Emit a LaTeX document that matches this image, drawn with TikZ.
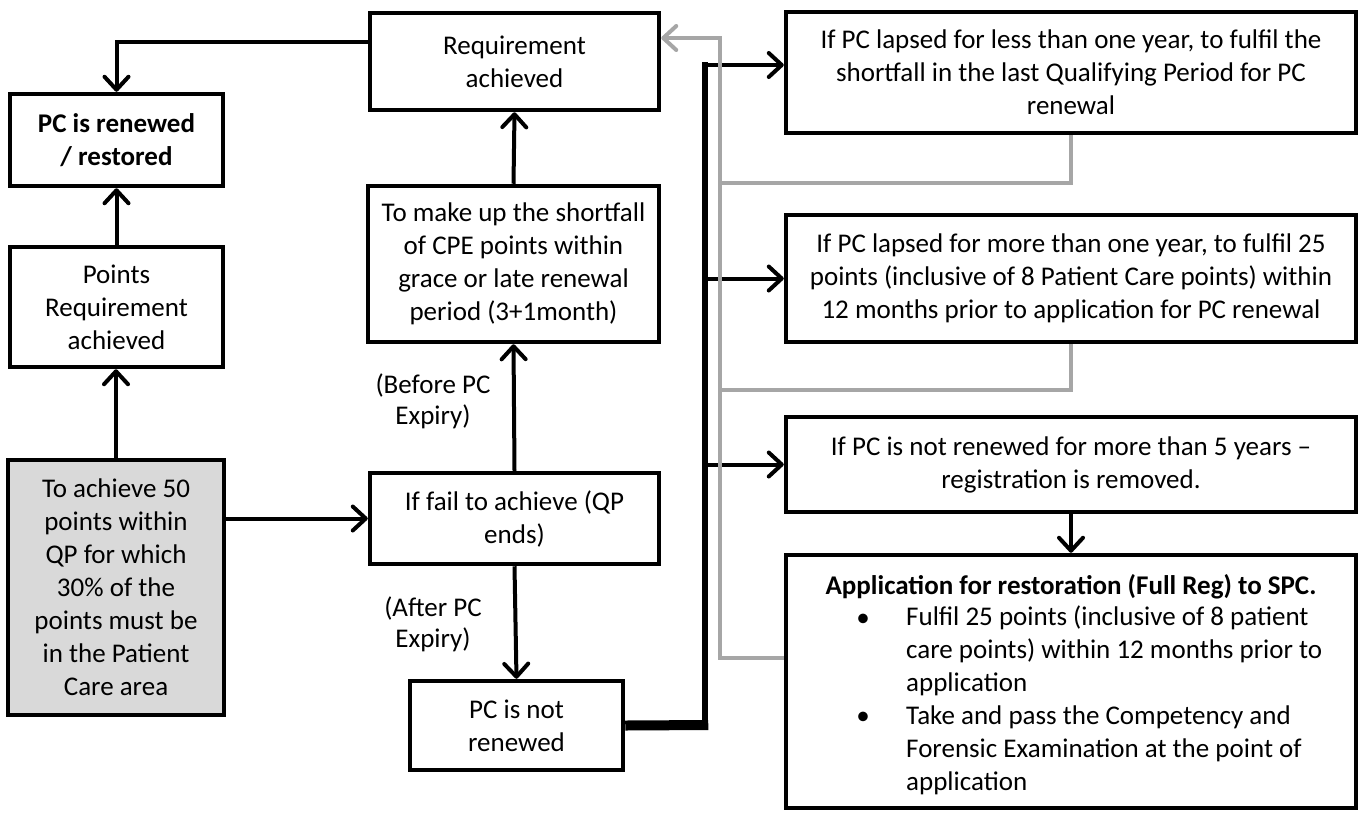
\documentclass[tikz,border=0pt]{standalone}
\usepackage{fontspec}
\setmainfont{Carlito}
\usetikzlibrary{arrows.meta,calc}
\definecolor{lgrey}{HTML}{A6A6A6}
\definecolor{boxgrey}{HTML}{D9D9D9}
\begin{document}
\begin{tikzpicture}[x=1pt,y=-1pt,
  txt/.style={font=\fontsize{27}{33}\selectfont},
  box/.style={draw,line width=4.5pt,rectangle,inner sep=0pt,align=center,txt},
  conn/.style={line width=4pt},
  arr/.style={line width=4pt,-{Straight Barb[length=13pt,width=24pt,round]}},
  gline/.style={line width=4pt,draw=lgrey},
  garr/.style={gline,-{Straight Barb[length=13pt,width=24pt,round]}},
  lbl/.style={align=center,inner sep=0pt,font=\fontsize{27}{31}\selectfont}
]
\useasboundingbox (0,0) rectangle (1362,812);

% left column
\node[box, minimum width=213pt, minimum height=92pt, font=\bfseries\fontsize{27}{33}\selectfont] (ren) at (116.5,140) {PC is renewed\\/ restored};
\node[box, minimum width=213pt, minimum height=120pt] (pts) at (116.5,307) {Points\\Requirement\\achieved};
\node[box, minimum width=216pt, minimum height=255pt, fill=boxgrey] (grey) at (116,587.5) {To achieve 50\\points within\\QP for which\\30\% of the\\points must be\\in the Patient\\Care area};

% middle column
\node[box, minimum width=289pt, minimum height=97pt] (req) at (514.5,61.5) {Requirement\\achieved};
\node[box, minimum width=291pt, minimum height=156pt] (mk) at (513.5,264) {To make up the shortfall\\of CPE points within\\grace or late renewal\\period (3+1month)};
\node[box, minimum width=289pt, minimum height=91pt] (fail) at (514.5,518.5) {If fail to achieve (QP\\ends)};
\node[box, minimum width=213pt, minimum height=89pt] (notren) at (516.5,725.5) {PC is not\\renewed};
\node[lbl] (before) at (433,401) {(Before PC\\Expiry)};
\node[lbl] (after) at (433,624) {(After PC\\Expiry)};

% right column
\node[box, minimum width=570pt, minimum height=121pt] (b1) at (1071,72.5) {If PC lapsed for less than one year, to fulfil the\\shortfall in the last Qualifying Period for PC\\renewal};
\node[box, minimum width=570pt, minimum height=127pt] (b2) at (1071,278.5) {If PC lapsed for more than one year, to fulfil 25\\points (inclusive of 8 Patient Care points) within\\12 months prior to application for PC renewal};
\node[box, minimum width=570pt, minimum height=95pt] (b3) at (1071,464.5) {If PC is not renewed for more than 5 years --\\registration is removed.};
\node[box, minimum width=570pt, minimum height=253pt] (b4) at (1071,681.5) {};
\node[inner sep=0pt, font=\bfseries\fontsize{27}{33}\selectfont] (b4h) at (1071,587) {Application for restoration (Full Reg) to SPC.};
\node[anchor=north west, align=left, inner sep=0pt, txt] (b4t) at (906,606) {Fulfil 25 points (inclusive of 8 patient\\care points) within 12 months prior to\\application\\Take and pass the Competency and\\Forensic Examination at the point of\\application};
\node[inner sep=0pt, txt] (bul1) at (863,620) {\textbullet};
\node[inner sep=0pt, txt] (bul2) at (863,718) {\textbullet};

% black connectors
\draw[arr] ($(req.north west)!0.31!(req.south west)$) -| (ren.north);
\draw[arr] (pts.north) -- (ren.south);
\draw[arr] (grey.north) -- (grey.north |- pts.south);
\draw[arr] (grey.east |- fail.west) -- (fail.west);
\draw[arr] (fail.north) -- (mk.south);
\draw[arr] (mk.north) -- (req.south);
\draw[arr] (fail.south) -- (notren.north);

\coordinate (bt) at (705,65);
\coordinate (bb) at (705,725);
\draw[line width=10pt] (notren.east) -- ([xshift=3.25pt]bb);
\draw[line width=6.5pt, line cap=rect] (bb) -- (bt);
\draw[arr] (bt) -- (bt -| b1.west);
\draw[arr] (bb |- b2.west) -- (b2.west);
\draw[arr] (bb |- b3.west) -- (b3.west);
\draw[arr] (b3.south) -- (b4.north);

% grey connectors
\coordinate (gt) at (720,38);
\coordinate (gb) at (720,658);
\coordinate (g1) at (720,183);
\coordinate (g2) at (720,390);
\draw[gline] (b1.south) |- (g1);
\draw[gline] (b2.south) |- (g2);
\draw[garr] (b4.west |- gb) -- (gb) -- (gt) -- (gt -| req.east);
\end{tikzpicture}
\end{document}
